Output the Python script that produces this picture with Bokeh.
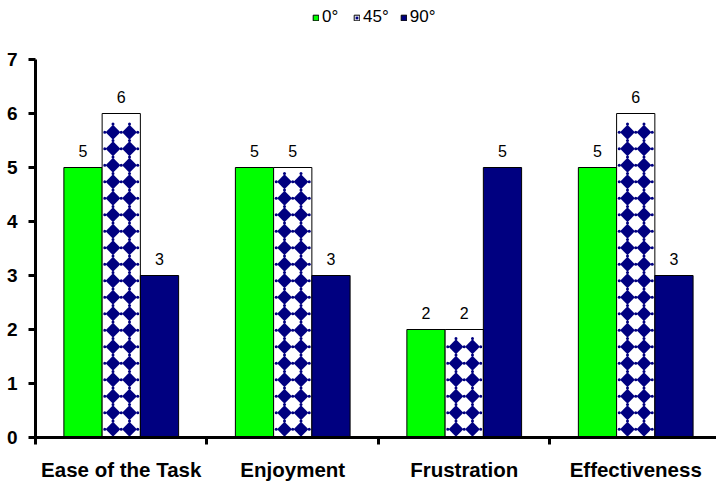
import math
from bokeh.plotting import figure
from bokeh.layouts import column
from bokeh.models import (ColumnDataSource, FixedTicker, Range1d, LabelSet,
                          Legend, LegendItem)
from bokeh.core.properties import value
from bokeh.embed import file_html
from bokeh.resources import INLINE

# Survey ratings per question, one series per viewing angle
categories = ["Ease of the Task", "Enjoyment", "Frustration", "Effectiveness"]
series_names = ["0°", "45°", "90°"]
angle_0 = [5, 5, 2, 5]
angle_45 = [6, 5, 2, 6]
angle_90 = [3, 3, 5, 3]
y_ticks = [0, 1, 2, 3, 4, 5, 6, 7]

FONT = "Liberation Sans"
GREEN = "#00ff00"
NAVY = "#000080"
BAR_W = 0.223

W = 716
TOP_H = 30          # legend strip
BOT_H = 32          # category label strip
LEFT = 35
FRAME_TOP = 59 - TOP_H
FRAME_BOTTOM = 13
FRAME_H = 378
MAIN_H = FRAME_TOP + FRAME_H + FRAME_BOTTOM
X_END = 3.971
Y_END = 7

p = figure(width=W, height=MAIN_H, output_backend="svg", toolbar_location=None,
           x_range=Range1d(0, X_END), y_range=Range1d(0, Y_END),
           min_border_left=LEFT, min_border_right=0, min_border_top=FRAME_TOP,
           min_border_bottom=FRAME_BOTTOM)
p.outline_line_color = None
p.grid.grid_line_color = None

centers = [i + 0.5 for i in range(len(categories))]
all_values = [angle_0, angle_45, angle_90]
offsets = [-BAR_W, 0.0, BAR_W]
fills = [GREEN, "white", NAVY]

for vals, off, fill in zip(all_values, offsets, fills):
    src = ColumnDataSource(dict(x=[c + off for c in centers], top=vals,
                                label=[str(v) for v in vals]))
    p.vbar(x="x", top="top", width=BAR_W, source=src,
           fill_color=fill, line_color="black", line_width=1)
    p.add_layout(LabelSet(x="x", y="top", text="label", source=src,
                          text_align="center", text_baseline="alphabetic",
                          y_offset=11, text_font=value(FONT),
                          text_font_size="16px", text_color="black"))

# Diamond lattice filling the 45° bars
px_x = X_END / (W - LEFT)       # data units per pixel along x
px_y = Y_END / FRAME_H          # data units per pixel along y
PERIOD = 16.5                   # lattice period in pixels
HALF_DIAG = 7.4                 # half diagonal of a diamond in pixels
dx, dy = PERIOD * px_x, PERIOD * px_y
dia_x, dia_y, dot_x, dot_y = [], [], [], []
for c, v in zip(centers, angle_45):
    y = dy / 2
    while y + HALF_DIAG * px_y <= v:
        for col in (-0.5, 0.5):
            dia_x.append(c + col * dx)
            dia_y.append(y)
        for col in (-1.0, 0.0, 1.0):
            dot_x.append(c + col * dx)
            dot_y.append(y)
        if y + dy / 2 < v - 2 * px_y:
            for col in (-0.5, 0.5):
                dot_x.append(c + col * dx)
                dot_y.append(y + dy / 2)
        y += dy
p.scatter(dia_x, dia_y, marker="square", size=HALF_DIAG * 2 / math.sqrt(2),
          angle=math.pi / 4, fill_color=NAVY, line_color=None)
p.scatter(dot_x, dot_y, marker="circle", size=3, fill_color=NAVY, line_color=None)

# Axes
xa = p.xaxis[0]
xa.ticker = FixedTicker(ticks=centers, minor_ticks=[0, 1, 2, 3])
xa.major_label_overrides = {c: "" for c in centers}
xa.major_label_text_font_size = "0px"
xa.major_label_standoff = 0
xa.major_tick_out = 0
xa.major_tick_in = 0
xa.minor_tick_out = 7
xa.minor_tick_in = 0
xa.minor_tick_line_width = 3
xa.minor_tick_line_color = "black"
xa.axis_line_width = 3
xa.axis_line_color = "black"

ya = p.yaxis[0]
ya.ticker = FixedTicker(ticks=y_ticks, minor_ticks=[])
ya.major_tick_out = 7
ya.major_tick_in = 0
ya.major_tick_line_width = 3
ya.axis_line_width = 3
ya.axis_line_color = "black"
ya.major_label_standoff = 11
ya.major_label_text_font = FONT
ya.major_label_text_font_style = "bold"
ya.major_label_text_font_size = "19px"
ya.major_label_text_color = "black"

# Category names under the axis
bot = figure(width=W, height=BOT_H, output_backend="svg", toolbar_location=None,
             x_range=p.x_range, y_range=Range1d(0, BOT_H),
             x_axis_type=None, y_axis_type=None,
             min_border_left=LEFT, min_border_right=0, min_border_top=0,
             min_border_bottom=0)
bot.outline_line_color = None
bot.grid.grid_line_color = None
bot.text(x=centers, y=[13] * len(centers), text=categories,
         text_font=value(FONT), text_font_style="bold", text_font_size="20.5px",
         text_align="center", text_baseline="middle", text_color="black")

# Legend strip above the chart
top = figure(width=W, height=TOP_H, output_backend="svg", toolbar_location=None,
             x_range=Range1d(0, 1), y_range=Range1d(0, 1),
             x_axis_type=None, y_axis_type=None,
             min_border_left=0, min_border_right=0, min_border_top=0,
             min_border_bottom=0)
top.outline_line_color = None
top.grid.grid_line_color = None
sw0 = top.vbar(x=[5], top=[0], width=1, fill_color=GREEN, line_color="black")
sw45 = top.vbar(x=[5], top=[0], width=1, fill_color="white", line_color="black")
sw45d = top.scatter(x=[5], y=[0], marker="square", angle=math.pi / 4,
                    fill_color=NAVY, line_color=None)
sw90 = top.vbar(x=[5], top=[0], width=1, fill_color=NAVY, line_color="black")
legend = Legend(items=[LegendItem(label=series_names[0], renderers=[sw0]),
                       LegendItem(label=series_names[1], renderers=[sw45, sw45d]),
                       LegendItem(label=series_names[2], renderers=[sw90])],
                orientation="horizontal", location=(277, 3),
                glyph_width=7, glyph_height=7, label_standoff=3, spacing=11,
                padding=0, margin=0, border_line_color=None,
                background_fill_alpha=0, label_text_font=FONT,
                label_text_font_size="17px", label_height=14,
                label_text_color="black")
top.add_layout(legend, "center")

open("out.html", "w").write(file_html(column(top, p, bot, spacing=0), INLINE))
